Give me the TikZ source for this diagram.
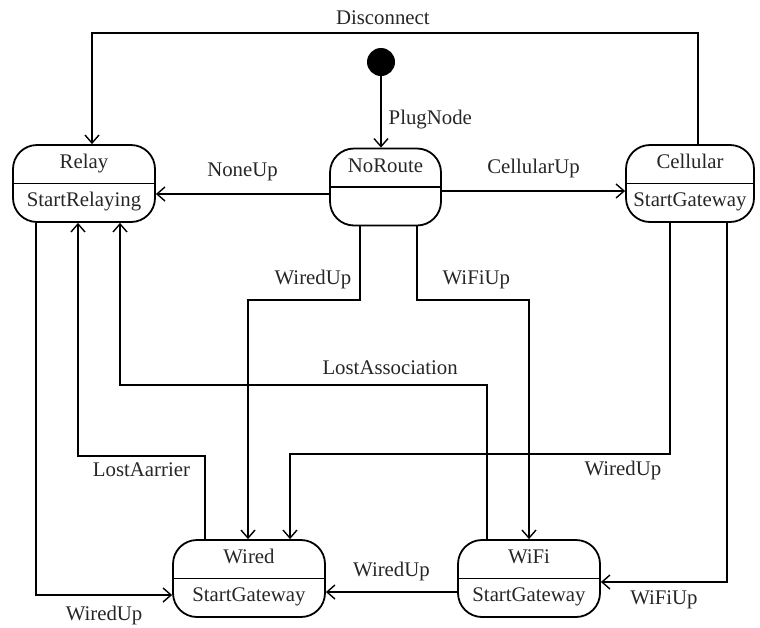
\documentclass[tikz,border=0pt]{standalone}
\usepackage{fontspec}
\setmainfont{Liberation Serif}
\usetikzlibrary{arrows.meta}
\begin{document}
\begin{tikzpicture}[x=0.5pt, y=-0.5pt,
    state/.style={draw, line width=0.9pt, rounded corners=12pt, inner sep=0pt, minimum height=38.5pt},
    tr/.style={line width=0.7pt, -{Straight Barb[length=4pt, width=7pt]}},
    lbl/.style={font=\fontsize{10.4}{12}\selectfont, text=black!85, inner sep=2pt}]
    \useasboundingbox (0,0) rectangle (760,627);
    % Zustaende: Name/x/y/Breite/Titel/Aktion
    \foreach \n/\x/\y/\w/\t/\a in {relay/84/183.5/71/Relay/StartRelaying,
        noroute/385.5/187/55.5/NoRoute/,
        cellular/690/183.5/64/Cellular/StartGateway,
        wired/249/578.5/76/Wired/StartGateway,
        wifi/529/578.5/71/WiFi/StartGateway} {
        \node[state, minimum width=\w pt] (\n) at (\x,\y) {};
        \draw[line width=0.9pt] (\n.west) -- (\n.east);
        \node[lbl, anchor=base] (\n-name) at ([yshift=7.3pt]\n.center) {\t};
        \node[lbl, anchor=base] (\n-act) at ([yshift=-11.7pt]\n.center) {\a};
    }
    % Startpunkt
    \node[circle, fill, minimum size=14pt, inner sep=0pt] (init) at (381,62) {};
    \draw[tr] (init) -- node[lbl, right=1.5pt, pos=0.6] (l-plug) {PlugNode} (noroute.north -| init.south);
    % Uebergaenge oben
    \draw[tr] (cellular.north -| 698,0) -- (698,33) -- node[lbl, above=2pt, pos=0.52] (l-disc) {Disconnect} (92,33) -- (relay.north -| 92,0);
    \draw[tr] (noroute.west |- 0,194) -- node[lbl, above=4pt] (l-none) {NoneUp} (relay.east |- 0,194);
    \draw[tr] (noroute.east |- 0,191) -- node[lbl, above=4pt] (l-cell) {CellularUp} (cellular.west |- 0,191);
    % von NoRoute nach unten
    \draw[tr] (noroute.south -| 360,0) -- (360,300) -- node[lbl, above=3pt, pos=0.42] (l-wired1) {WiredUp} (248,300) -- (wired.north -| 248,0);
    \draw[tr] (noroute.south -| 417,0) -- (417,300) -- node[lbl, above=3pt, pos=0.53] (l-wifi1) {WiFiUp} (529,300) -- (wifi.north -| 529,0);
    % zurueck zu Relay
    \draw[tr] (wifi.north -| 487,0) -- (487,385) -- node[lbl, above=3pt, pos=0.264] (l-lost) {LostAssociation} (120,385) -- (relay.south -| 120,0);
    \draw[tr] (wired.north -| 205,0) -- (205,456) -- node[lbl, below=1pt] (l-carr) {LostAarrier} (78,456) -- (relay.south -| 78,0);
    % von Cellular nach unten
    \draw[tr] (cellular.south -| 670,0) -- (670,454) -- node[lbl, below=1pt, pos=0.124] (l-wired2) {WiredUp} (290,454) -- (wired.north -| 290,0);
    \draw[tr] (cellular.south -| 727,0) -- (727,582) -- node[lbl, below=2pt] (l-wifi2) {WiFiUp} (wifi.east |- 0,582);
    % unten
    \draw[tr] (wifi.west |- 0,592) -- node[lbl, above=3pt] (l-wired3) {WiredUp} (wired.east |- 0,592);
    \draw[tr] (relay.south -| 36,0) -- (36,595) -- node[lbl, below=3pt] (l-wired4) {WiredUp} (wired.west |- 0,595);
\end{tikzpicture}
\end{document}
